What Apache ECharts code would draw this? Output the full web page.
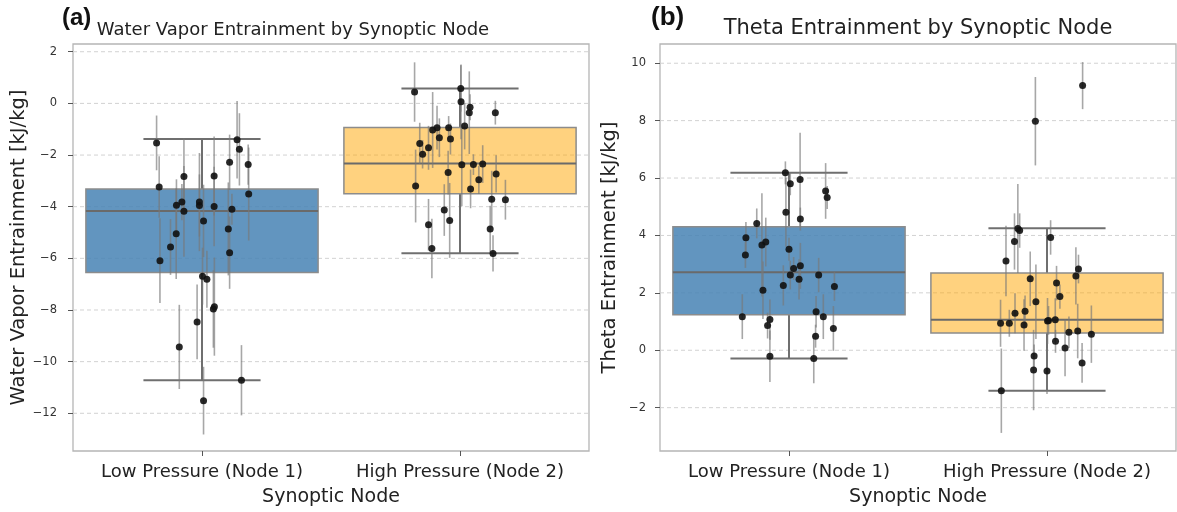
<!DOCTYPE html>
<html>
<head>
<meta charset="utf-8">
<script src="https://cdn.jsdelivr.net/npm/echarts@6/dist/echarts.min.js"></script>
<style>
html,body{margin:0;padding:0;background:#fff;}
#chart{width:1177px;height:512px;}
</style>
</head>
<body>
<div id="chart"></div>
<script>
// ---------------- DATA ----------------
const categories = ['Low Pressure (Node 1)', 'High Pressure (Node 2)'];
const panelTags = ['(a)', '(b)'];
const panelTitles = ['Water Vapor Entrainment by Synoptic Node', 'Theta Entrainment by Synoptic Node'];
const yNames = ['Water Vapor Entrainment [kJ/kg]', 'Theta Entrainment [kJ/kg]'];
const xName = 'Synoptic Node';

const waterTicks = [-12, -10, -8, -6, -4, -2, 0, 2];
const thetaTicks = [-2, 0, 2, 4, 6, 8, 10];
const waterRange = [-13.46, 2.30];
const thetaRange = [-3.51, 10.67];

// box stats per category: [q1, median, q3, whiskerLow, whiskerHigh]
const waterBox = [[-6.55, -4.17, -3.31, -10.72, -1.38], [-3.50, -2.33, -0.93, -5.80, 0.58]];
const thetaBox = [[1.24, 2.72, 4.30, -0.29, 6.18], [0.60, 1.06, 2.69, -1.41, 4.25]];

// points: [jitter offset from category, value, error half-width]
const waterLow = [
  [-0.176,-1.53,1.06],[-0.166,-3.24,1.19],[-0.163,-6.09,1.64],[-0.122,-5.56,1.08],[-0.100,-5.05,1.75],
  [-0.099,-3.94,1.00],[-0.078,-3.82,0.70],[-0.070,-4.18,1.76],[-0.070,-2.83,1.47],[-0.088,-9.43,1.63],
  [-0.019,-8.46,1.45],[-0.010,-3.82,1.90],[-0.010,-3.95,1.20],[0.006,-4.55,1.40],[0.002,-6.69,1.10],
  [0.019,-6.81,1.10],[0.006,-11.51,1.31],[0.047,-2.81,1.53],[0.047,-3.99,1.54],[0.048,-7.87,1.90],
  [0.044,-7.96,1.50],[0.102,-4.86,1.80],[0.107,-2.28,1.07],[0.107,-5.78,1.40],[0.116,-4.10,0.60],
  [0.136,-1.41,1.50],[0.145,-1.78,1.40],[0.179,-2.37,0.78],[0.181,-3.51,1.80],[0.153,-10.72,1.36]
];
const waterHigh = [
  [-0.176,0.44,1.15],[-0.156,-1.55,0.80],[-0.145,-1.97,0.55],[-0.122,-1.72,0.85],[-0.172,-3.20,1.41],
  [-0.122,-4.70,1.00],[-0.109,-5.62,1.15],[-0.106,-1.03,1.47],[-0.089,-0.94,0.85],[-0.080,-1.33,0.75],
  [-0.061,-4.13,1.00],[-0.046,-2.68,0.85],[-0.044,-0.94,0.45],[-0.037,-1.38,0.60],[-0.040,-4.53,1.45],
  [0.003,0.58,0.90],[0.004,0.06,1.45],[0.018,-0.88,0.90],[0.007,-2.38,1.60],[0.036,-0.36,1.60],
  [0.039,-0.15,0.50],[0.041,-3.31,0.75],[0.052,-2.37,0.40],[0.073,-2.96,0.55],[0.088,-2.35,0.73],
  [0.123,-3.71,1.10],[0.117,-4.86,0.90],[0.128,-5.81,0.70],[0.137,-0.36,0.46],[0.140,-2.73,0.72],
  [0.176,-3.73,0.77]
];
const thetaLow = [
  [-0.181,1.17,0.78],[-0.167,3.92,0.55],[-0.169,3.32,0.45],[-0.125,4.42,0.52],[-0.105,3.67,1.80],
  [-0.090,3.77,0.85],[-0.101,2.09,1.00],[-0.083,0.86,0.45],[-0.074,1.07,0.70],[-0.074,-0.21,0.90],
  [-0.014,6.18,0.40],[0.005,5.80,0.40],[-0.012,4.81,1.20],[0.000,3.52,0.40],[-0.022,2.26,0.70],
  [0.005,2.62,0.50],[0.018,2.85,0.40],[0.043,5.95,1.63],[0.044,4.57,0.40],[0.044,2.94,0.80],
  [0.039,2.47,0.70],[0.115,2.62,0.60],[0.105,1.34,0.55],[0.103,0.49,0.40],[0.096,-0.29,0.86],
  [0.133,1.17,0.78],[0.142,5.55,0.97],[0.148,5.32,0.40],[0.176,2.22,0.50],[0.172,0.76,0.78]
];
const thetaHigh = [
  [-0.177,-1.41,1.47],[-0.180,0.94,0.82],[-0.146,0.94,0.47],[-0.159,3.11,1.23],[-0.126,3.79,0.98],
  [-0.124,1.29,0.70],[-0.113,4.24,1.55],[-0.106,4.17,0.60],[-0.089,0.88,0.90],[-0.085,1.36,0.55],
  [-0.065,2.49,0.95],[-0.050,-0.20,0.40],[-0.052,-0.69,1.40],[-0.045,7.98,1.54],[-0.043,1.69,1.30],
  [0.000,-0.72,0.80],[0.002,1.02,0.80],[0.006,1.04,0.50],[0.032,1.06,0.75],[0.014,3.93,0.60],
  [0.033,0.31,0.40],[0.037,2.34,0.60],[0.050,1.87,0.42],[0.070,0.08,0.99],[0.085,0.63,0.55],
  [0.112,2.59,1.00],[0.122,2.83,0.50],[0.119,0.67,0.95],[0.136,-0.44,0.69],[0.138,9.22,0.82],
  [0.172,0.56,1.00]
];

// ---------------- BUILD ----------------
const FONT = 'DejaVu Sans';
const boxFill = [{color: 'rgb(70,130,180)', opacity: 0.85}, {color: 'rgb(255,165,0)', opacity: 0.5}];
const panels = [
  {box: waterBox, pts: [waterLow, waterHigh], ticks: waterTicks, range: waterRange},
  {box: thetaBox, pts: [thetaLow, thetaHigh], ticks: thetaTicks, range: thetaRange}
];
const gridLeft = [73, 660];
const gridW = 516;
const titleCenter = [293, 918];
const titleSize = [18, 21];
const titleTop = [21, 18];
const tagLeft = [62, 651];
const tagSize = [24, 26];
const tagTop = [6, 5];
const labelMargin = [16, 14];

function renderGridLine(params, api) {
  const cs = params.coordSys;
  const y = api.coord([0, api.value(1)])[1];
  return {type: 'line', shape: {x1: cs.x, y1: y, x2: cs.x + cs.width, y2: y},
    style: {stroke: '#d2d2d2', lineWidth: 1, lineDash: [4, 3]}};
}
function renderBox(params, api) {
  const c = api.value(0), q1 = api.value(1), med = api.value(2), q3 = api.value(3), lo = api.value(4), hi = api.value(5);
  const bw = 0.45, cw = 0.227;
  const a = api.coord([c - bw, q3]), b = api.coord([c + bw, q1]);
  const m0 = api.coord([c - bw, med]), m1 = api.coord([c + bw, med]);
  const ctop = api.coord([c, q3]), cbot = api.coord([c, q1]);
  const whi = api.coord([c, hi]), wlo = api.coord([c, lo]);
  const capL1 = api.coord([c - cw, hi]), capR1 = api.coord([c + cw, hi]);
  const capL2 = api.coord([c - cw, lo]), capR2 = api.coord([c + cw, lo]);
  const fill = boxFill[params.dataIndex];
  const wStyle = {stroke: '#6f6f6f', lineWidth: 2};
  return {type: 'group', children: [
    {type: 'line', shape: {x1: ctop[0], y1: ctop[1], x2: whi[0], y2: whi[1]}, style: wStyle},
    {type: 'line', shape: {x1: cbot[0], y1: cbot[1], x2: wlo[0], y2: wlo[1]}, style: wStyle},
    {type: 'line', shape: {x1: capL1[0], y1: capL1[1], x2: capR1[0], y2: capR1[1]}, style: wStyle},
    {type: 'line', shape: {x1: capL2[0], y1: capL2[1], x2: capR2[0], y2: capR2[1]}, style: wStyle},
    {type: 'rect', shape: {x: a[0], y: a[1], width: b[0] - a[0], height: b[1] - a[1]},
      style: {fill: fill.color, opacity: fill.opacity, stroke: null}},
    {type: 'rect', shape: {x: a[0], y: a[1], width: b[0] - a[0], height: b[1] - a[1]},
      style: {fill: null, stroke: '#8c8c8c', lineWidth: 1.5}},
    {type: 'line', shape: {x1: m0[0], y1: m0[1], x2: m1[0], y2: m1[1]}, style: {stroke: '#6a6a6a', lineWidth: 2}}
  ]};
}
function renderErr(params, api) {
  const x = api.value(0), y = api.value(1), e = api.value(2);
  const p0 = api.coord([x, y - e]), p1 = api.coord([x, y + e]);
  return {type: 'line', shape: {x1: p0[0], y1: p0[1], x2: p1[0], y2: p1[1]},
    style: {stroke: 'rgba(120,120,120,0.65)', lineWidth: 1.6}};
}

const grids = [], xAxes = [], yAxes = [], series = [], titles = [];
panels.forEach((p, i) => {
  grids.push({left: gridLeft[i], top: 44, width: gridW, height: 411, show: true,
    borderColor: '#b5b5b5', borderWidth: 1.3, backgroundColor: '#fff'});
  xAxes.push({type: 'value', gridIndex: i, min: -0.5, max: 1.5, show: false,
    axisLine: {onZero: false}});
  xAxes.push({type: 'category', gridIndex: i, data: categories, boundaryGap: true, position: 'bottom',
    axisLine: {show: false, onZero: false},
    axisTick: {show: true, alignWithLabel: true, interval: 0, length: 5, lineStyle: {color: '#555', width: 1}},
    axisLabel: {fontFamily: FONT, fontSize: 18, color: '#222', margin: 12, interval: 0, hideOverlap: false},
    splitLine: {show: false},
    name: xName, nameLocation: 'middle', nameGap: 37,
    nameTextStyle: {fontFamily: FONT, fontSize: 19, color: '#222'}});
  yAxes.push({type: 'value', gridIndex: i, min: p.range[0], max: p.range[1], position: 'left',
    axisLine: {show: false, onZero: false},
    axisTick: {show: true, length: 5, customValues: p.ticks, lineStyle: {color: '#555', width: 1}},
    axisLabel: {fontFamily: FONT, fontSize: 11.5, color: '#333', margin: labelMargin[i], customValues: p.ticks,
      formatter: v => String(v).replace('-', '\u2212')},
    splitLine: {show: false},
    name: yNames[i], nameLocation: 'middle', nameGap: 40,
    nameTextStyle: {fontFamily: FONT, fontSize: 19.5, color: '#222'}});
  const xv = i * 2, yv = i;
  series.push({type: 'custom', xAxisIndex: xv, yAxisIndex: yv, z: 1, silent: true,
    renderItem: renderGridLine, data: p.ticks.map(t => [0, t])});
  series.push({type: 'custom', xAxisIndex: xv, yAxisIndex: yv, z: 2, silent: true,
    renderItem: renderBox,
    data: p.box.map((s, c) => [c, s[0], s[1], s[2], s[3], s[4]])});
  p.pts.forEach((arr, c) => {
    series.push({type: 'custom', xAxisIndex: xv, yAxisIndex: yv, z: 3, silent: true,
      renderItem: renderErr, data: arr.map(d => [c + d[0], d[1], d[2]])});
  });
  p.pts.forEach((arr, c) => {
    series.push({type: 'scatter', xAxisIndex: xv, yAxisIndex: yv, z: 4, silent: true,
      symbolSize: 7, itemStyle: {color: '#111', opacity: 0.9},
      data: arr.map(d => [c + d[0], d[1]])});
  });
  titles.push({text: panelTitles[i], left: titleCenter[i], textAlign: 'center', top: titleTop[i], padding: 0,
    textStyle: {fontFamily: FONT, fontSize: titleSize[i], fontWeight: 'normal', color: '#222'}});
  titles.push({text: panelTags[i], left: tagLeft[i], top: tagTop[i], padding: 0,
    textStyle: {fontFamily: 'Liberation Sans', fontSize: tagSize[i], fontWeight: 'bold', color: '#111'}});
});

const chart = echarts.init(document.getElementById('chart'), null, {renderer: 'canvas'});
chart.setOption({
  animation: false,
  backgroundColor: '#fff',
  title: titles,
  grid: grids,
  xAxis: xAxes,
  yAxis: yAxes,
  series: series
});
</script>
</body>
</html>
